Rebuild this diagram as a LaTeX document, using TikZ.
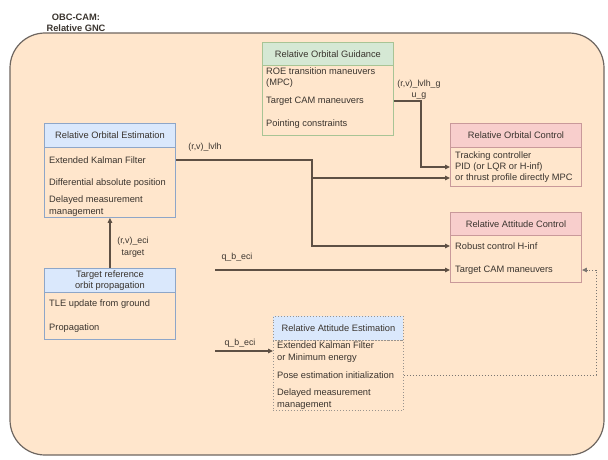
\documentclass[tikz,border=0pt]{standalone}
\usepackage{fontspec}
\setmainfont{Liberation Sans}
\usetikzlibrary{arrows.meta}

\definecolor{bgfill}{HTML}{FFE6CC}
\definecolor{bgline}{HTML}{6E6660}
\definecolor{bluefill}{HTML}{DAE8FC}
\definecolor{bluestroke}{HTML}{8EA6C8}
\definecolor{greenfill}{HTML}{D5E8D4}
\definecolor{greenstroke}{HTML}{A8C495}
\definecolor{redfill}{HTML}{F8CECC}
\definecolor{redstroke}{HTML}{C9999A}
\definecolor{wire}{HTML}{5E5044}
\definecolor{txt}{HTML}{3A342E}
\definecolor{dotgray}{HTML}{9A948E}

\newcommand\diafont{\fontsize{9.3}{11.3}\selectfont}
\newcommand\lblfont{\fontsize{8.8}{11.5}\selectfont}

\tikzset{
  hdr/.style={draw, line width=0.9pt, anchor=north west, inner sep=0pt,
              minimum width=131pt, minimum height=24pt, align=center,
              font=\diafont, text=txt},
  body/.style={draw, line width=0.9pt, anchor=north west, inner sep=0pt,
               minimum width=131pt},
  item/.style={anchor=west, inner sep=0pt, align=left, font=\diafont, text=txt},
  lbl/.style={inner sep=0pt, align=center, font=\lblfont, text=txt},
  wire/.style={draw=wire, line width=1.1pt, -{Triangle[length=5pt,width=4.5pt]}},
  dotwire/.style={draw=dotgray!80!black, line width=1pt, dotted,
                  -{Triangle[length=5pt,width=4.5pt]}},
}

\begin{document}
\begin{tikzpicture}[x=1pt,y=-1pt]
\useasboundingbox (0,0) rectangle (608,460);

% container
\draw[draw=bgline, fill=bgfill, line width=1.2pt, rounded corners=35pt]
  (10,33) rectangle (604,455);
\node[font=\diafont\bfseries, text=txt, align=center, inner sep=0pt]
  (title) at (76,22.5) {OBC-CAM:\\Relative GNC};

% Relative Orbital Guidance
\node[hdr, fill=greenfill, draw=greenstroke, minimum height=23pt] (guidH) at (262,42)
  {Relative Orbital Guidance};
\node[body, draw=greenstroke, minimum height=70pt] (guidB) at (262,65) {};
\node[item] (guid1) at (266,77.5) {ROE transition maneuvers\\(MPC)};
\node[item] (guid2) at (266,101) {Target CAM maneuvers};
\node[item] (guid3) at (266,124) {Pointing constraints};

% Relative Orbital Estimation
\node[hdr, fill=bluefill, draw=bluestroke] (roeH) at (44,123)
  {Relative Orbital Estimation};
\node[body, draw=bluestroke, minimum height=70pt] (roeB) at (44,147) {};
\node[item] (roe1) at (49,160) {Extended Kalman Filter};
\node[item] (roe2) at (49,183) {Differential absolute position};
\node[item] (roe3) at (49,206) {Delayed measurement\\management};

% Target reference orbit propagation
\node[hdr, fill=bluefill, draw=bluestroke, font=\fontsize{9.3}{10.8}\selectfont] (tgtH) at (44,268)
  {Target reference\\orbit propagation};
\node[body, draw=bluestroke, minimum height=47pt] (tgtB) at (44,292) {};
\node[item] (tgt1) at (49,304) {TLE update from ground};
\node[item] (tgt2) at (49,328) {Propagation};

% Relative Orbital Control
\node[hdr, fill=redfill, draw=redstroke] (orbcH) at (450,123)
  {Relative Orbital Control};
\node[body, draw=redstroke, minimum height=39pt] (orbcB) at (450,147) {};
\node[item] (orbc1) at (455,156) {Tracking controller};
\node[item] (orbc2) at (455,167) {PID (or LQR or H-inf)};
\node[item] (orbc3) at (455,178) {or thrust profile directly MPC};

% Relative Attitude Control
\node[hdr, fill=redfill, draw=redstroke, minimum height=23pt] (attcH) at (450,212)
  {Relative Attitude Control};
\node[body, draw=redstroke, minimum height=47pt] (attcB) at (450,235) {};
\node[item] (attc1) at (455,246) {Robust control H-inf};
\node[item] (attc2) at (455,270) {Target CAM maneuvers};

% Relative Attitude Estimation
\node[hdr, fill=bluefill, draw=dotgray, dotted, minimum width=130pt] (atteH) at (273,316)
  {Relative Attitude Estimation};
\node[body, draw=dotgray, dotted, minimum width=130pt, minimum height=70pt] (atteB) at (273,340) {};
\node[item] (atte1) at (277,352) {Extended Kalman Filter\\or Minimum energy};
\node[item] (atte2) at (277,375) {Pose estimation initialization};
\node[item] (atte3) at (277,399) {Delayed measurement\\management};

% connectors
\coordinate (split) at (312,178);
\draw[wire] (roeB.east |- roe1) -| (split) |- (attcB.west |- attc1);
\draw[wire] (split) -- (orbcB.west |- orbc3);
\node[lbl] (lvlh) at (205,147) {(r,v)\_lvlh};

\coordinate (gturn) at (421,167);
\draw[wire] (guidB.east |- guid2) -| (gturn) -- (orbcB.west |- orbc2);
\node[lbl] (lvlhg) at (419,89.5) {(r,v)\_lvlh\_g\\u\_g};

\draw[wire] (tgtH.north) -- (roeB.south);
\node[lbl] (eci) at (133,247) {(r,v)\_eci\\target};

\coordinate (qin1) at (215,270);
\draw[wire] (qin1) -- (attcB.west |- attc2);
\node[lbl] (qb1) at (237,257) {q\_b\_eci};

\coordinate (qin2) at (215,351);
\draw[wire] (qin2) -- (atteB.west |- qin2);
\node[lbl] (qb2) at (240,343) {q\_b\_eci};

\coordinate (dturn) at (596,270);
\draw[dotwire] (atteB.east |- atte2) -| (dturn) -- (attcB.east |- attc2);
\end{tikzpicture}
\end{document}
